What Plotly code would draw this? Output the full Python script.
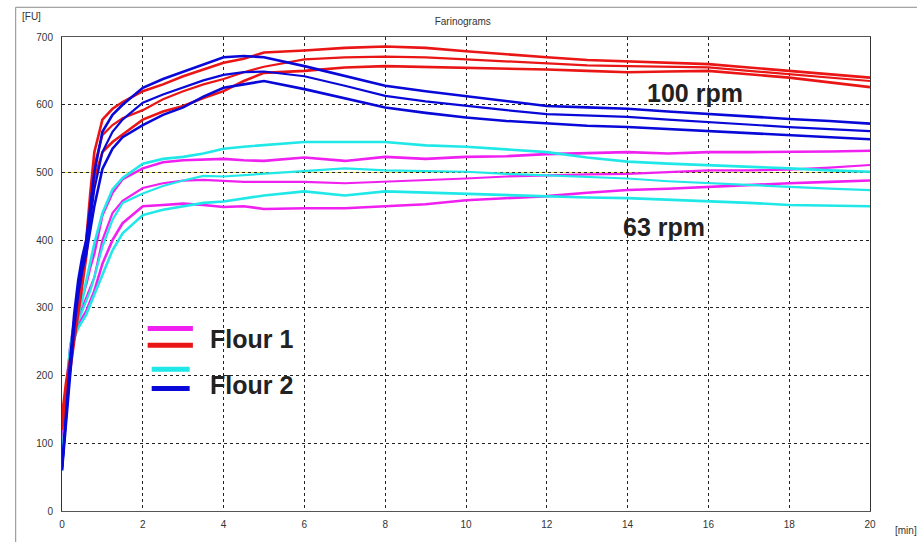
import plotly.graph_objects as go

# ---- data ----
time_min = [0, 0.1, 0.2, 0.3, 0.4, 0.5, 0.6, 0.7, 0.8, 1.0, 1.25, 1.5, 2, 2.5, 3, 3.5, 4, 4.5, 5,
            6, 7, 8, 9, 10, 11, 12, 13, 14, 15, 16, 17, 18, 19, 20]

# Flour 1, 100 rpm (red)
f1_100_upper = [140, 190, 225, 270, 310, 350, 400, 470, 530, 578, 594, 604, 620, 630, 642, 652, 662, 668, 677,
                680, 684, 686, 684, 679, 674, 670, 666, 664, 662, 660, 655, 650, 645, 640]
f1_100_mid = [130, 180, 215, 260, 300, 340, 390, 455, 510, 555, 570, 580, 592, 608, 620, 630, 638, 648, 656,
              667, 670, 671, 670, 667, 664, 660, 658, 657, 656, 655, 650, 645, 640, 635]
f1_100_lower = [120, 165, 205, 250, 290, 330, 375, 435, 490, 530, 545, 556, 578, 590, 598, 610, 620, 635, 647,
                650, 655, 657, 656, 654, 653, 652, 650, 648, 649, 650, 645, 640, 633, 626]

# Flour 2, 100 rpm (blue)
f2_100_upper = [65, 150, 220, 290, 340, 375, 400, 450, 500, 560, 585, 600, 625, 638, 649, 660, 670, 672, 670,
                657, 643, 628, 620, 613, 605, 598, 596, 594, 590, 586, 583, 579, 576, 572]
f2_100_mid = [62, 140, 210, 280, 330, 365, 390, 430, 475, 530, 560, 578, 603, 615, 625, 636, 644, 648, 649,
              642, 628, 613, 605, 598, 592, 586, 584, 582, 578, 574, 571, 567, 564, 561]
f2_100_lower = [60, 130, 200, 270, 320, 355, 380, 415, 450, 505, 535, 552, 570, 585, 596, 612, 625, 630, 635,
                623, 610, 596, 588, 581, 576, 572, 569, 567, 564, 561, 558, 555, 552, 549]

# Flour 1, 63 rpm (magenta)
f1_63_upper = [100, 180, 240, 280, 300, 315, 335, 360, 380, 437, 470, 490, 506, 515, 518, 519, 520, 518, 517,
               522, 517, 523, 520, 523, 524, 527, 528, 530, 528, 530, 530, 530, 531, 532]
f1_63_mid = [90, 170, 230, 265, 285, 300, 315, 330, 345, 400, 440, 458, 477, 484, 488, 489, 487, 486, 486,
             486, 484, 486, 488, 491, 494, 496, 497, 498, 500, 503, 503, 504, 507, 511]
f1_63_lower = [80, 160, 220, 255, 275, 285, 295, 310, 325, 365, 400, 425, 450, 452, 454, 452, 449, 450, 446,
               447, 447, 450, 453, 459, 462, 465, 470, 474, 476, 479, 481, 484, 486, 488]

# Flour 2, 63 rpm (cyan)
f2_63_upper = [60, 170, 240, 275, 290, 310, 340, 370, 395, 440, 475, 492, 513, 520, 523, 528, 535, 538, 540,
               545, 545, 545, 540, 538, 534, 530, 522, 516, 513, 511, 508, 506, 503, 501]
f2_63_mid = [60, 160, 230, 265, 280, 295, 310, 325, 345, 390, 430, 455, 469, 480, 488, 495, 494, 496, 498,
             503, 506, 503, 502, 501, 498, 496, 493, 491, 487, 484, 481, 479, 476, 474]
f2_63_lower = [60, 150, 220, 255, 270, 280, 290, 305, 320, 350, 385, 410, 437, 445, 450, 455, 457, 462, 466,
               472, 466, 472, 470, 469, 467, 465, 463, 462, 460, 457, 455, 452, 451, 450]

REF_LEVEL = 500
x_ticks = [0, 2, 4, 6, 8, 10, 12, 14, 16, 18, 20]
y_ticks = [0, 100, 200, 300, 400, 500, 600, 700]

RED = "#ea1515"
BLUE = "#0808d8"
MAGENTA = "#f020f0"
CYAN = "#20e8e8"

fig = go.Figure()

groups = [
    (MAGENTA, [f1_63_upper, f1_63_mid, f1_63_lower]),
    (CYAN, [f2_63_upper, f2_63_mid, f2_63_lower]),
    (RED, [f1_100_upper, f1_100_mid, f1_100_lower]),
    (BLUE, [f2_100_upper, f2_100_mid, f2_100_lower]),
]
for color, series in groups:
    for i, ys in enumerate(series):
        fig.add_trace(go.Scatter(
            x=time_min, y=ys, mode="lines",
            line=dict(color=color, width=2.6 if i != 1 else 2.2),
            showlegend=False, hoverinfo="skip"))

# yellow reference line at 500 FU
fig.add_shape(type="line", xref="paper", x0=0, x1=1, yref="y", y0=REF_LEVEL, y1=REF_LEVEL,
              line=dict(color="#f0e020", width=1), layer="below")

# custom legend
legend_items = [
    (MAGENTA, 2.12, 3.24, 269.5),
    (RED, 2.12, 3.24, 244.7),
    (CYAN, 2.22, 3.16, 209.5),
    (BLUE, 2.22, 3.16, 181.0),
]
for color, xa, xb, yy in legend_items:
    fig.add_shape(type="line", xref="x", yref="y", x0=xa, x1=xb, y0=yy, y1=yy,
                  line=dict(color=color, width=5))

big = dict(family="Arial, Liberation Sans, sans-serif", size=25, color="#222222")
fig.add_annotation(x=3.61, y=254.2, xref="x", yref="y", text="<b>Flour 1</b>",
                   showarrow=False, xanchor="left", yanchor="middle", font=big)
fig.add_annotation(x=3.61, y=185.6, xref="x", yref="y", text="<b>Flour 2</b>",
                   showarrow=False, xanchor="left", yanchor="middle", font=big)
fig.add_annotation(x=14.42, y=617.0, xref="x", yref="y", text="<b>100 rpm</b>",
                   showarrow=False, xanchor="left", yanchor="middle", font=big)
fig.add_annotation(x=13.83, y=418.8, xref="x", yref="y", text="<b>63 rpm</b>",
                   showarrow=False, xanchor="left", yanchor="middle", font=big)

small = dict(family="Arial, Liberation Sans, sans-serif", size=10, color="#333333")
fig.add_annotation(x=-0.0524, y=1.0424, xref="paper", yref="paper", text="[FU]",
                   showarrow=False, xanchor="left", yanchor="middle", font=small)
fig.add_annotation(x=1.0281, y=-0.0403, xref="paper", yref="paper", text="[min]",
                   showarrow=False, xanchor="left", yanchor="middle", font=small)

# outer frame
fig.add_shape(type="rect", xref="paper", yref="paper", x0=-0.0573, x1=1.0802, y0=-0.07, y1=1.0627,
              line=dict(color="#8a8a8a", width=1), fillcolor="rgba(0,0,0,0)", layer="below")

fig.update_layout(
    width=917, height=542,
    margin=dict(l=62, r=47, t=37, b=26),
    paper_bgcolor="white", plot_bgcolor="white",
    title=dict(text="Farinograms", x=0.496, xref="paper", y=1 - 21 / 542, yref="container",
               xanchor="center", yanchor="middle",
               font=dict(family="Arial, Liberation Sans, sans-serif", size=10, color="#333333")),
    showlegend=False,
)
fig.update_xaxes(range=[0, 20], tickvals=x_ticks, ticktext=[str(v) for v in x_ticks],
                 showgrid=True, gridcolor="#222222", griddash="3px,3px", gridwidth=1,
                 showline=True, linecolor="#555555", linewidth=1, mirror=True,
                 zeroline=False, ticks="", ticklabelstandoff=4,
                 tickfont=dict(family="Arial, Liberation Sans, sans-serif", size=10, color="#333333"))
fig.update_yaxes(range=[0, 700], tickvals=y_ticks, ticktext=[str(v) for v in y_ticks],
                 showgrid=True, gridcolor="#222222", griddash="3px,3px", gridwidth=1,
                 showline=True, linecolor="#333333", linewidth=1, mirror=True,
                 zeroline=False, ticks="", ticklabelstandoff=6,
                 tickfont=dict(family="Arial, Liberation Sans, sans-serif", size=10, color="#333333"))

fig.write_html("out.html")
